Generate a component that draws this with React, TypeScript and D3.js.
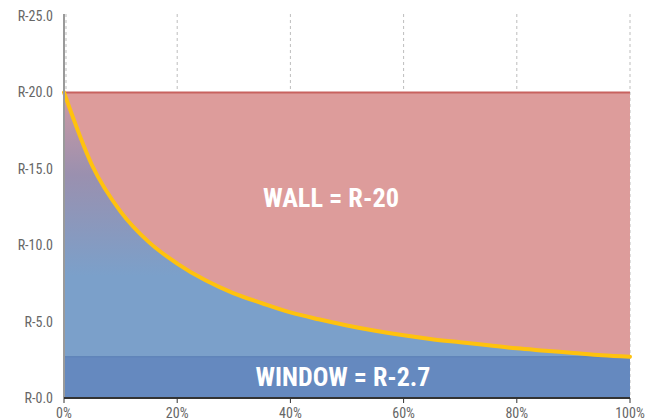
import React from "react";
import * as d3 from "d3";

// window share of the wall area (%) and effective R-value
const shares = [0, 5, 10, 15, 20, 25, 30, 35, 40, 45, 50, 55, 60, 65, 70, 75, 80, 85, 90, 95, 100];
const rValues = [20, 15.2, 12.2, 10.2, 8.8, 7.7, 6.85, 6.2, 5.6, 5.15, 4.75, 4.4, 4.1, 3.85, 3.65, 3.45, 3.25, 3.1, 2.95, 2.8, 2.7];
const yTicks = [0, 5, 10, 15, 20, 25];
const xTicks = [0, 20, 40, 60, 80, 100];
const wallR = 20;
const windowR = 2.7;

const condensed = "'Liberation Sans Narrow', 'Roboto Condensed', Roboto, sans-serif";

const App = () => {
  const width = 656;
  const height = 420;

  const x = d3.scaleLinear().domain([0, 100]).range([64, 630]);
  const y = d3.scaleLinear().domain([0, 25]).range([398, 16]);

  const pts = shares.map((s, i) => ({ s, r: rValues[i] }));

  const curve = d3
    .line<{ s: number; r: number }>()
    .x((d) => x(d.s))
    .y((d) => y(d.r))
    .curve(d3.curveMonotoneX);

  const underCurve = d3
    .area<{ s: number; r: number }>()
    .x((d) => x(d.s))
    .y0(y(0))
    .y1((d) => y(d.r))
    .curve(d3.curveMonotoneX);

  return (
    <svg
      width={width}
      height={height}
      style={{ position: "absolute", left: 0, top: 0, background: "#fff" }}
    >
      <defs>
        <linearGradient id="blueFade" gradientUnits="userSpaceOnUse" x1="0" y1={y(20)} x2="0" y2={y(8)}>
          <stop offset="0" stopColor="#CF9AA2" />
          <stop offset="0.45" stopColor="#9A90AF" />
          <stop offset="1" stopColor="#7BA0CA" />
        </linearGradient>
      </defs>

      {/* grid */}
      {xTicks.map((t) => (
        <line
          key={t}
          x1={x(t) + (t === 0 ? 2 : 0)}
          x2={x(t) + (t === 0 ? 2 : 0)}
          y1={y(25) - 2}
          y2={y(0)}
          stroke="#bdbdbd"
          strokeDasharray="3,3"
        />
      ))}

      {/* wall */}
      <rect x={x(0)} y={y(wallR)} width={x(100) - x(0)} height={y(0) - y(wallR)} fill="#DD9C9B" />
      <line x1={x(0)} x2={x(100)} y1={y(wallR)} y2={y(wallR)} stroke="#C8625F" strokeWidth={2} />

      {/* area below the curve */}
      <path d={underCurve(pts) ?? ""} fill="url(#blueFade)" />

      {/* window band */}
      <rect x={x(0)} y={y(windowR)} width={x(100) - x(0)} height={y(0) - y(windowR)} fill="#6589BF" />
      <line x1={x(0)} x2={x(100)} y1={y(windowR)} y2={y(windowR)} stroke="#5B7FB5" strokeWidth={1} />

      {/* curve */}
      <path d={curve(pts) ?? ""} fill="none" stroke="#FFC20E" strokeWidth={4} strokeLinecap="round" />

      {/* axes */}
      <line x1={x(0)} x2={x(0)} y1={y(25) - 2} y2={y(0)} stroke="#9a9a9a" strokeWidth={2} />
      <line x1={x(0)} x2={x(100)} y1={y(0)} y2={y(0)} stroke="#333" strokeWidth={2} />
      {xTicks.map((t) => (
        <g key={t} transform={`translate(${x(t)},${y(0)})`}>
          <line y2={5} stroke="#333" />
          <text y={20} textAnchor="middle" fontSize={14} fill="#666" fontFamily={condensed}>
            {t}%
          </text>
        </g>
      ))}
      {yTicks.map((t) => (
        <text
          key={t}
          x={53}
          y={y(t) + 5}
          textAnchor="end"
          fontSize={14}
          fill="#666"
          fontFamily={condensed}
        >
          {`R-${t.toFixed(1)}`}
        </text>
      ))}

      {/* labels */}
      <text
        x={331}
        y={207}
        textAnchor="middle"
        fontSize={26}
        fontWeight="bold"
        fill="#fff"
        fontFamily={condensed}
        textLength={136}
        lengthAdjust="spacingAndGlyphs"
      >
        WALL = R-20
      </text>
      <text
        x={343}
        y={386}
        textAnchor="middle"
        fontSize={26}
        fontWeight="bold"
        fill="#fff"
        fontFamily={condensed}
        textLength={175}
        lengthAdjust="spacingAndGlyphs"
      >
        WINDOW = R-2.7
      </text>
    </svg>
  );
};

export default App;
